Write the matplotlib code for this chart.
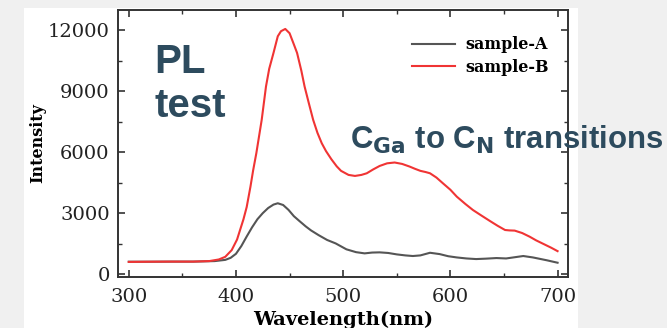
import matplotlib.pyplot as plt
from matplotlib.patches import Rectangle

# wavelength (nm) and intensity
wl_a = [300, 320, 340, 360, 380, 390, 395, 400, 405, 410, 415, 420, 425, 430, 435,
        439, 444, 449, 454, 459, 465, 470, 477, 485, 493, 503, 512, 520, 527, 534,
        542, 550, 558, 565, 572, 581, 590, 598, 606, 615, 624, 633, 643, 652, 660,
        668, 677, 690, 700]
sample_a = [610, 610, 615, 615, 640, 700, 800, 1000, 1380, 1850, 2300, 2700, 3000, 3250, 3420,
            3485, 3400, 3160, 2850, 2620, 2350, 2150, 1920, 1680, 1510, 1220, 1080, 1020, 1060, 1070,
            1040, 970, 920, 890, 920, 1050, 985, 880, 820, 770, 740, 760, 790, 770, 830,
            890, 820, 680, 560]

wl_b = [300, 320, 340, 360, 375, 384, 390, 396, 401, 407, 410, 413.5, 416, 419, 424,
        428, 431, 435, 439, 442, 446, 450, 454, 457, 461, 464, 468, 472, 476, 480,
        484, 489, 494, 498, 505, 511, 517, 522, 528, 534, 541, 548, 555, 562, 567,
        572, 577, 581, 587, 593, 600, 606, 614, 621, 629, 637, 644, 651, 655, 660,
        667, 674, 680, 687, 694, 700]
sample_b = [600, 610, 615, 615, 640, 720, 850, 1180, 1700, 2700, 3300, 4300, 5100, 5950, 7590,
            9230, 10100, 10880, 11700, 11950, 12060, 11850, 11300, 10880, 10000, 9230, 8400, 7590, 6950, 6440,
            6050, 5650, 5300, 5080, 4880, 4830, 4880, 4960, 5150, 5320, 5450, 5490, 5420, 5290, 5180,
            5080, 5020, 4960, 4750, 4470, 4150, 3810, 3450, 3155, 2880, 2610, 2380, 2170, 2150, 2140,
            2020, 1840, 1660, 1480, 1300, 1130]

x_ticks = [300, 400, 500, 600, 700]
y_ticks = [0, 3000, 6000, 9000, 12000]

serif = ["DejaVu Serif"]
title_color = "#2d4b5e"

fig = plt.figure(figsize=(6.67, 3.28), dpi=100, facecolor="#f0f0f0")
fig.patches.append(Rectangle((0.036, 0.0), 0.831, 0.976, transform=fig.transFigure,
                             facecolor="white", edgecolor="none", zorder=-5))

ax = fig.add_axes([0.177, 0.155, 0.675, 0.815])
ax.set_zorder(1)
ax.plot(wl_a, sample_a, color="#555555", lw=1.5, label="sample-A")
ax.plot(wl_b, sample_b, color="#f03434", lw=1.5, label="sample-B")

ax.set_xlim(290, 710)
ax.set_ylim(-150, 13000)
ax.set_xticks(x_ticks)
ax.set_yticks(y_ticks)
ax.set_xticks([350, 450, 550, 650], minor=True)
ax.set_yticks([1500, 4500, 7500, 10500], minor=True)
ax.tick_params(which="both", direction="in", top=True, right=True, color="#333333")
ax.tick_params(which="major", length=5, width=1.2, labelsize=14)
ax.tick_params(which="minor", length=3, width=1.0)
ax.tick_params(axis="x", pad=8)
ax.tick_params(axis="y", pad=6)
for lab in ax.get_xticklabels() + ax.get_yticklabels():
    lab.set_family(serif)
    lab.set_color("#222222")
for sp in ax.spines.values():
    sp.set_linewidth(1.4)
    sp.set_color("#333333")

ax.set_xlabel("Wavelength(nm)", family=serif, fontsize=14, fontweight="bold", labelpad=3)
ax.set_ylabel("Intensity", family=serif, fontsize=11.5, fontweight="bold", labelpad=1)

leg = ax.legend(loc="upper right", bbox_to_anchor=(0.971, 0.925), frameon=False,
                prop={"family": serif, "weight": "bold", "size": 11.5},
                handlelength=2.7, handletextpad=0.66, labelspacing=0.35, borderaxespad=0)

fig.text(0.232, 0.745, "PL\ntest", fontsize=29, fontweight="bold", color=title_color,
         family="Liberation Sans", va="center", ha="left", linespacing=1.2, zorder=5)
fig.text(0.525, 0.572, r"C$_{\mathbf{Ga}}$ to C$_{\mathbf{N}}$ transitions", fontsize=22.4,
         fontweight="bold", color=title_color, family="Liberation Sans", va="center", ha="left",
         zorder=5)

fig.savefig("out.png", dpi=100, facecolor=fig.get_facecolor())
